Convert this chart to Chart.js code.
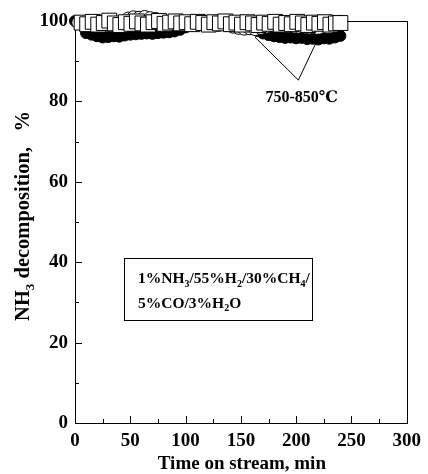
<!DOCTYPE html>
<html>
<head>
<meta charset="utf-8">
<script src="https://cdn.jsdelivr.net/npm/chart.js@4/dist/chart.umd.min.js"></script>
<style>
html,body{margin:0;padding:0;background:#fff;}
#wrap{width:428px;height:474px;}
</style>
</head>
<body>
<div id="wrap"><canvas id="c" width="428" height="474"></canvas></div>
<script>
// ---- data ----
const times = [0,5,10,15,20,25,30,35,40,45,50,55,60,65,70,75,80,85,90,95,100,105,110,115,120,125,130,135,140,145,150,155,160,165,170,175,180,185,190,195,200,205,210,215,220,225,230,235,240];
const openCircleTimes = [3,8,13,18,23,28,33,38,43,48,53,58,63,68,73,78,83,88,93,98,103,108,113,118,123,128,133,138,143,148,153,158,163,168,173,178,183,188,193,198,203,208,213,218,223,228,233,238,240];
const squareTimes = [6,11,16,21,26,31,36,41,46,51,56,61,66,71,76,81,86,91,96,101,106,111,116,121,126,131,136,141,146,151,156,161,166,171,176,181,186,191,196,201,206,211,216,221,226,231,236,240];
const filledCircles = [100,99.6,97.0,96.6,96.2,95.9,96.0,96.2,96.1,96.4,96.6,96.7,96.8,96.9,96.8,97.0,97.1,97.2,97.4,97.8,98.4,98.8,98.9,99.0,98.9,99.0,98.8,98.9,98.7,98.6,98.5,98.3,98.0,97.5,96.9,96.5,96.2,96.0,95.8,95.9,95.7,95.8,95.5,95.6,95.4,95.7,95.6,95.9,96.3];
const openCircles = [99.6,99.7,99.5,99.6,99.8,99.7,99.6,99.5,99.7,100.6,100.9,100.8,101.0,100.7,100.5,99.8,99.6,99.7,99.5,99.6,99.7,99.5,99.6,99.8,99.6,99.5,99.4,99.3,98.6,98.3,98.1,98.2,98.0,98.3,98.6,99.0,99.3,99.4,99.5,99.4,99.6,99.5,99.4,99.5,99.6,99.5,99.6,99.7,99.8];
const openSquares = [99.6,99.2,99.8,99.1,99.5,100.1,99.4,99.0,99.7,99.3,99.9,99.4,99.1,99.7,100.0,99.3,99.6,99.9,99.4,99.7,99.2,99.8,99.5,99.1,99.7,99.4,99.9,99.2,99.6,99.1,99.7,99.4,99.0,99.6,99.3,99.8,99.1,99.5,99.2,99.8,99.4,99.0,99.6,99.3,99.7,99.1,99.4,99.5];
const xTicks = [0,50,100,150,200,250,300];
const yTicks = [0,20,40,60,80,100];
const annotationText = "750-850\u2103";
const annotationTextAt = [205, 81];      // [min, %]
const annotationFrom = [202, 85.3];
const annotationTo = [[162.7, 96.0], [217.8, 94.5]];
const legendLine1 = [["1%NH",""],["3","sub"],["/55%H",""],["2","sub"],["/30%CH",""],["4","sub"],["/",""]];
const legendLine2 = [["5%CO/3%H",""],["2","sub"],["O",""]];
const yTitle = [["NH",""],["3","sub"],[" decomposition,   %",""]];
const xTitle = "Time on stream, min";

const SERIF = "'Liberation Serif','Times New Roman','DejaVu Serif',serif";
const SYM = "'Liberation Serif','DejaVu Serif','Noto Sans CJK SC',serif";

function toPts(ts, vals){ return ts.map((t,i)=>({x:t,y:vals[i]})); }

function drawRich(ctx, parts, x, y, size, align){
  let w = 0;
  const fonts = parts.map(p => p[1]==='sub' ? `bold ${Math.round(size*0.65)}px ${SERIF}` : `bold ${size}px ${SERIF}`);
  parts.forEach((p,i)=>{ ctx.font = fonts[i]; w += ctx.measureText(p[0]).width; });
  let cx = align==='center' ? x - w/2 : x;
  ctx.textBaseline = 'alphabetic';
  ctx.textAlign = 'left';
  parts.forEach((p,i)=>{
    ctx.font = fonts[i];
    ctx.fillText(p[0], cx, p[1]==='sub' ? y + size*0.22 : y);
    cx += ctx.measureText(p[0]).width;
  });
  return w;
}

const deco = {
  id:'deco',
  beforeDatasetsDraw(chart){
    const ctx = chart.ctx, a = chart.chartArea, xs = chart.scales.x, ys = chart.scales.y;
    ctx.save();
    ctx.strokeStyle = '#000'; ctx.lineWidth = 1;
    ctx.strokeRect(Math.round(a.left)+0.5, Math.round(a.top)+0.5, Math.round(a.right-a.left), Math.round(a.bottom-a.top));
    ctx.beginPath();
    for (let v=0; v<=100; v+=10){
      const py = Math.round(ys.getPixelForValue(v))+0.5;
      const len = (v%20===0)?7:4;
      ctx.moveTo(a.left, py); ctx.lineTo(a.left+len, py);
    }
    for (let v=0; v<=300; v+=25){
      const px = Math.round(xs.getPixelForValue(v))+0.5;
      const len = (v%50===0)?7:4;
      ctx.moveTo(px, a.bottom); ctx.lineTo(px, a.bottom-len);
    }
    ctx.stroke();
    // legend box
    const bx = xs.getPixelForValue(44.5), by = ys.getPixelForValue(41), bx2 = xs.getPixelForValue(214.5), by2 = ys.getPixelForValue(25.5);
    ctx.strokeRect(Math.round(bx)+0.5, Math.round(by)+0.5, Math.round(bx2-bx), Math.round(by2-by));
    ctx.fillStyle = '#000';
    const tx = xs.getPixelForValue(57);
    drawRich(ctx, legendLine1, tx, ys.getPixelForValue(34.8), 15.5, 'left');
    drawRich(ctx, legendLine2, tx, ys.getPixelForValue(28.6), 15.5, 'left');
    ctx.restore();
  },
  afterDatasetsDraw(chart){
    const ctx = chart.ctx, xs = chart.scales.x, ys = chart.scales.y, a = chart.chartArea;
    ctx.save();
    ctx.strokeStyle = '#000'; ctx.lineWidth = 1;
    ctx.beginPath();
    const fx = xs.getPixelForValue(annotationFrom[0]), fy = ys.getPixelForValue(annotationFrom[1]);
    annotationTo.forEach(p=>{ ctx.moveTo(fx,fy); ctx.lineTo(xs.getPixelForValue(p[0]), ys.getPixelForValue(p[1])); });
    ctx.stroke();
    ctx.fillStyle = '#000';
    ctx.font = `bold 16px ${SYM}`;
    ctx.textAlign = 'center'; ctx.textBaseline = 'middle';
    ctx.fillText(annotationText, xs.getPixelForValue(annotationTextAt[0]), ys.getPixelForValue(annotationTextAt[1]));
    // x title
    ctx.font = `bold 19px ${SERIF}`;
    ctx.textBaseline = 'alphabetic';
    ctx.fillText(xTitle, (a.left+a.right)/2 + 1, 469);
    // y title
    ctx.translate(29, 216);
    ctx.rotate(-Math.PI/2);
    drawRich(ctx, yTitle, 0, 0, 20.5, 'center');
    ctx.restore();
  }
};

new Chart(document.getElementById('c'), {
  type:'scatter',
  data:{ datasets:[
    { data: toPts(times, filledCircles), pointStyle:'circle', pointRadius:5.5, backgroundColor:'#000', borderColor:'#000', borderWidth:1, clip:false, showLine:false, order:3 },
    { data: toPts(openCircleTimes, openCircles), pointStyle:'circle', pointRadius:6.5, backgroundColor:'#fff', borderColor:'#000', borderWidth:1, clip:false, showLine:false, order:2 },
    { data: toPts(squareTimes, openSquares), pointStyle:'rect', pointRadius:10.5, backgroundColor:'#fff', borderColor:'#000', borderWidth:1, clip:false, showLine:false, order:1 }
  ] },
  options:{
    responsive:false, animation:false, devicePixelRatio:1,
    layout:{ padding:{ left:0, top:21, right:15, bottom:0 } },
    plugins:{ legend:{display:false}, tooltip:{enabled:false} },
    scales:{
      x:{ type:'linear', min:0, max:300,
        afterFit(s){ s.height = 51; },
        afterBuildTicks(s){ s.ticks = xTicks.map(v=>({value:v})); },
        grid:{ display:false, drawTicks:false },
        border:{ display:false },
        ticks:{ color:'#000', padding:7, font:{ family:SERIF, size:19, weight:'bold' }, maxRotation:0 }
      },
      y:{ type:'linear', min:0, max:100,
        afterFit(s){ s.width = 75; },
        afterBuildTicks(s){ s.ticks = yTicks.map(v=>({value:v})); },
        grid:{ display:false, drawTicks:false },
        border:{ display:false },
        ticks:{ color:'#000', padding:7, font:{ family:SERIF, size:19, weight:'bold' } }
      }
    }
  },
  plugins:[deco]
});
</script>
</body>
</html>
